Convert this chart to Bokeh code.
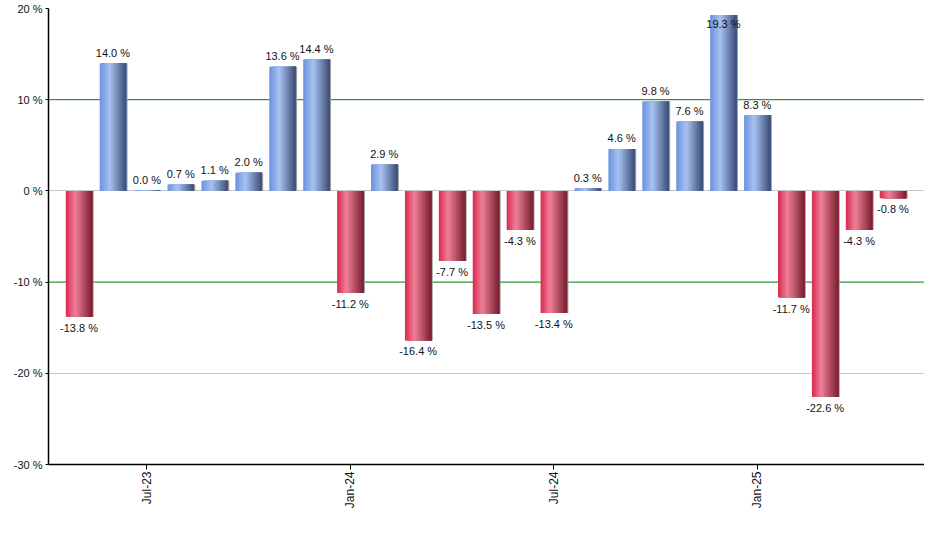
import numpy as np
from bokeh.plotting import figure
from bokeh.models import ColumnDataSource, FixedTicker, Span
from bokeh.embed import file_html
from bokeh.resources import INLINE
from bokeh.core.properties import value

# Monthly returns, May-23 .. May-25
months = ["May-23", "Jun-23", "Jul-23", "Aug-23", "Sep-23", "Oct-23", "Nov-23", "Dec-23",
          "Jan-24", "Feb-24", "Mar-24", "Apr-24", "May-24", "Jun-24", "Jul-24", "Aug-24",
          "Sep-24", "Oct-24", "Nov-24", "Dec-24", "Jan-25", "Feb-25", "Mar-25", "Apr-25", "May-25"]
returns = [-13.8, 14.0, 0.04, 0.7, 1.1, 2.0, 13.6, 14.4, -11.2, 2.9, -16.4, -7.7, -13.5,
           -4.3, -13.4, 0.3, 4.6, 9.8, 7.6, 19.3, 8.3, -11.7, -22.6, -4.3, -0.8]
tick_months = ["Jul-23", "Jan-24", "Jul-24", "Jan-25"]
y_ticks = [-30, -20, -10, 0, 10, 20]

FONT = "Liberation Sans"
vals = np.array(returns)
idx = np.arange(len(vals))

p = figure(width=924, height=534, output_backend="svg", toolbar_location=None,
           x_range=(-0.9, 24.93), y_range=(-30, 20),
           min_border_left=48, min_border_right=0, min_border_top=8, min_border_bottom=70)
p.outline_line_color = None
p.xgrid.visible = False
p.ygrid.ticker = FixedTicker(ticks=[-20, 0, 20])
p.ygrid.grid_line_color = "#c8c8c8"

for lvl in (10, -10):
    p.add_layout(Span(location=lvl, dimension="width", line_color="#008000",
                      line_width=1, level="underlay"))

# gradient bars: overlapping slices, each running to the right edge
bar_w = 0.78
n_sl = 20
blue_stops = [(0.0, (106, 146, 224)), (0.38, (168, 194, 240)), (1.0, (58, 76, 118))]
red_stops = [(0.0, (216, 40, 80)), (0.35, (240, 128, 152)), (1.0, (120, 30, 48))]


def interp(stops, t):
    pos = [s[0] for s in stops]
    rgb = [np.interp(t, pos, [s[1][k] for s in stops]) for k in range(3)]
    return "#%02x%02x%02x" % tuple(int(round(c)) for c in rgb)


# right-side shadow
p.vbar(x=idx + bar_w / 2 + 0.02, width=0.04, top=vals, bottom=0,
       fill_color="#9a9a9a", line_color=None)

sw = bar_w / n_sl
right = idx + bar_w / 2
for i in range(n_sl):
    t = (i + 0.5) / n_sl
    cols = [interp(blue_stops, t) if v >= 0 else interp(red_stops, t) for v in vals]
    left = idx - bar_w / 2 + i * sw
    src = ColumnDataSource(dict(x=(left + right) / 2, w=right - left, top=vals, c=cols))
    p.vbar(x="x", top="top", bottom=0, width="w", fill_color="c",
           line_color=None, source=src)

# value labels
label_y = np.where(vals >= 0, np.where(vals + 2 > 20, vals - 1.0, vals + 1.15), vals - 1.2)
labels = ["%.1f %%" % v for v in vals]
p.text(x=idx, y=label_y, text=labels, text_align="center", text_baseline="middle",
       text_font=value(FONT), text_font_size="11px", text_color="#111111")

# axes
p.xaxis.ticker = FixedTicker(ticks=[months.index(m) for m in tick_months])
p.xaxis.major_label_overrides = {months.index(m): m for m in tick_months}
p.xaxis.major_label_orientation = np.pi / 2
p.xaxis.minor_tick_line_color = None
p.xaxis.major_tick_in = 0
p.xaxis.major_tick_out = 5

p.yaxis.ticker = FixedTicker(ticks=y_ticks)
p.yaxis.major_label_overrides = {t: "%d %%" % t for t in y_ticks}
p.yaxis.minor_tick_line_color = None
p.yaxis.major_tick_in = 0
p.yaxis.major_tick_out = 3

for ax in (p.xaxis, p.yaxis):
    ax.axis_line_color = "black"
    ax.axis_line_width = 1.5
    ax.major_tick_line_color = "black"
    ax.major_label_text_font = FONT
    ax.major_label_text_font_size = "11px"
    ax.major_label_text_color = "#111111"
    ax.major_label_standoff = 3

p.xaxis.major_label_text_font_size = "12px"
p.xaxis.major_label_standoff = 2

open("out.html", "w").write(file_html(p, INLINE))
